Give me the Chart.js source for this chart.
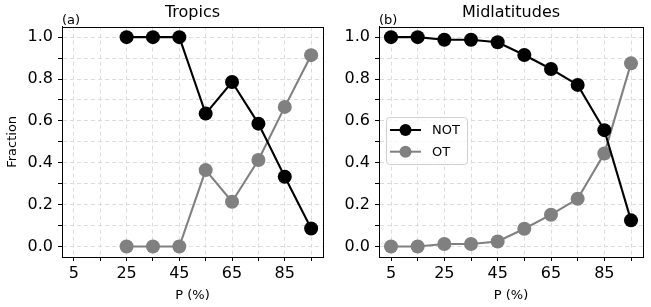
<!DOCTYPE html>
<html>
<head>
    <title>Tropics / Midlatitudes</title>
    <style>
        body { margin: 0; background: #fff; }
        canvas { position: absolute; top: 0; }
        #leftCanvas { left: 0; }
        #rightCanvas { left: 330px; }
    </style>
    <script src="https://cdn.jsdelivr.net/npm/chart.js@4/dist/chart.umd.min.js"></script>
</head>
<body>
    <canvas id="leftCanvas" width="330" height="307"></canvas>
    <canvas id="rightCanvas" width="321" height="307"></canvas>

    <script>
        // Daten
        const pTropics = [25, 35, 45, 55, 65, 75, 85, 95];
        const notTropics = [1.0, 1.0, 1.0, 0.635, 0.786, 0.587, 0.333, 0.086];
        const otTropics = [0.0, 0.0, 0.0, 0.365, 0.214, 0.413, 0.667, 0.914];

        const pMid = [5, 15, 25, 35, 45, 55, 65, 75, 85, 95];
        const notMid = [1.0, 1.0, 0.988, 0.988, 0.976, 0.915, 0.848, 0.772, 0.556, 0.125];
        const otMid = [0.0, 0.0, 0.012, 0.012, 0.024, 0.085, 0.152, 0.228, 0.444, 0.875];

        const xTicks = [5, 15, 25, 35, 45, 55, 65, 75, 85, 95];
        const xLabels = [5, 25, 45, 65, 85];
        const yTicks = [0.0, 0.1, 0.2, 0.3, 0.4, 0.5, 0.6, 0.7, 0.8, 0.9, 1.0];
        const yLabels = [0.0, 0.2, 0.4, 0.6, 0.8, 1.0];

        const fontMain = 'DejaVu Sans';

        // Rahmen + Panelbuchstabe
        const framePlugin = {
            id: 'frame',
            afterDraw(chart, args, opts) {
                const ctx = chart.ctx;
                const a = chart.chartArea;
                ctx.save();
                ctx.strokeStyle = '#000';
                ctx.lineWidth = 1;
                ctx.strokeRect(Math.round(a.left) + 0.5, Math.round(a.top) + 0.5,
                    Math.round(a.right - a.left), Math.round(a.bottom - a.top));
                ctx.fillStyle = '#000';
                ctx.font = '13px ' + fontMain;
                ctx.textBaseline = 'alphabetic';
                ctx.textAlign = 'left';
                ctx.fillText(opts.panel, a.left, a.top - 3);
                ctx.restore();
            }
        };

        // Legende innerhalb der Achsen (wie matplotlib)
        const innerLegend = {
            id: 'innerLegend',
            afterDraw(chart, args, opts) {
                if (!opts.show) return;
                const ctx = chart.ctx;
                const a = chart.chartArea;
                const bx = a.left + 7, by = 117, bw = 81, bh = 47;
                ctx.save();
                ctx.beginPath();
                ctx.roundRect(bx + 0.5, by + 0.5, bw, bh, 3);
                ctx.fillStyle = 'rgba(255,255,255,0.8)';
                ctx.fill();
                ctx.strokeStyle = '#d0d0d0';
                ctx.lineWidth = 1;
                ctx.stroke();
                chart.data.datasets.forEach((ds, i) => {
                    const y = by + 13 + i * 21.7;
                    ctx.strokeStyle = ds.borderColor;
                    ctx.lineWidth = 2;
                    ctx.beginPath();
                    ctx.moveTo(bx + 4, y);
                    ctx.lineTo(bx + 35, y);
                    ctx.stroke();
                    ctx.fillStyle = ds.backgroundColor;
                    ctx.beginPath();
                    ctx.arc(bx + 19.5, y, 6, 0, Math.PI * 2);
                    ctx.fill();
                    ctx.fillStyle = '#000';
                    ctx.font = '13px ' + fontMain;
                    ctx.textBaseline = 'middle';
                    ctx.textAlign = 'left';
                    ctx.fillText(ds.label, bx + 46, y + 1);
                });
                ctx.restore();
            }
        };

        function makeDataset(label, xs, ys, color) {
            return {
                label: label,
                data: xs.map((x, i) => ({ x: x, y: ys[i] })),
                borderColor: color,
                backgroundColor: color,
                borderWidth: 2.1,
                pointRadius: 7,
                pointHoverRadius: 7,
                pointBorderWidth: 0,
                tension: 0
            };
        }

        function makeChart(canvasId, title, panel, datasets, yTitle, yWidth, rightPad, showLegend) {
            const ctx = document.getElementById(canvasId).getContext('2d');
            return new Chart(ctx, {
                type: 'line',
                data: { datasets: datasets },
                plugins: [framePlugin, innerLegend],
                options: {
                    responsive: false,
                    animation: false,
                    layout: { padding: { left: 0, right: rightPad, top: 0, bottom: 0 } },
                    plugins: {
                        legend: { display: false },
                        tooltip: { enabled: false },
                        title: {
                            display: true,
                            fullSize: false,
                            text: title,
                            color: '#000',
                            font: { family: fontMain, size: 16, weight: 'normal' },
                            padding: { top: 3, bottom: 4.5 }
                        },
                        frame: { panel: panel },
                        innerLegend: { show: showLegend }
                    },
                    scales: {
                        x: {
                            type: 'linear',
                            min: 0.5,
                            max: 99.5,
                            afterBuildTicks: s => { s.ticks = xTicks.map(v => ({ value: v })); },
                            afterFit: s => { s.height = 50; },
                            ticks: {
                                autoSkip: false,
                                maxRotation: 0,
                                padding: 3,
                                color: '#000',
                                font: { family: fontMain, size: 16 },
                                callback: v => xLabels.includes(v) ? String(v) : ''
                            },
                            grid: {
                                color: '#dcdcdc',
                                tickColor: '#000',
                                tickLength: 4,
                                drawTicks: true
                            },
                            border: { display: true, color: '#000', dash: [4, 3] },
                            title: {
                                display: true,
                                text: 'P (%)',
                                color: '#000',
                                font: { family: fontMain, size: 13 },
                                padding: { top: 4, bottom: 4 }
                            }
                        },
                        y: {
                            min: -0.05,
                            max: 1.05,
                            afterBuildTicks: s => { s.ticks = yTicks.map(v => ({ value: v })); },
                            afterFit: s => { s.width = yWidth; },
                            ticks: {
                                autoSkip: false,
                                padding: 5,
                                color: '#000',
                                font: { family: fontMain, size: 16 },
                                callback: v => yLabels.includes(v) ? v.toFixed(1) : ''
                            },
                            grid: {
                                color: '#dcdcdc',
                                tickColor: '#000',
                                tickLength: 4,
                                drawTicks: true
                            },
                            border: { display: true, color: '#000', dash: [4, 3] },
                            title: {
                                display: yTitle !== '',
                                text: yTitle,
                                color: '#000',
                                font: { family: fontMain, size: 13 },
                                padding: { top: 5, bottom: 5 }
                            }
                        }
                    }
                }
            });
        }

        makeChart('leftCanvas', 'Tropics', '(a)', [
            makeDataset('NOT', pTropics, notTropics, '#000000'),
            makeDataset('OT', pTropics, otTropics, '#808080')
        ], 'Fraction', 62, 5, false);

        makeChart('rightCanvas', 'Midlatitudes', '(b)', [
            makeDataset('NOT', pMid, notMid, '#000000'),
            makeDataset('OT', pMid, otMid, '#808080')
        ], '', 49, 8, true);
    </script>
</body>
</html>
